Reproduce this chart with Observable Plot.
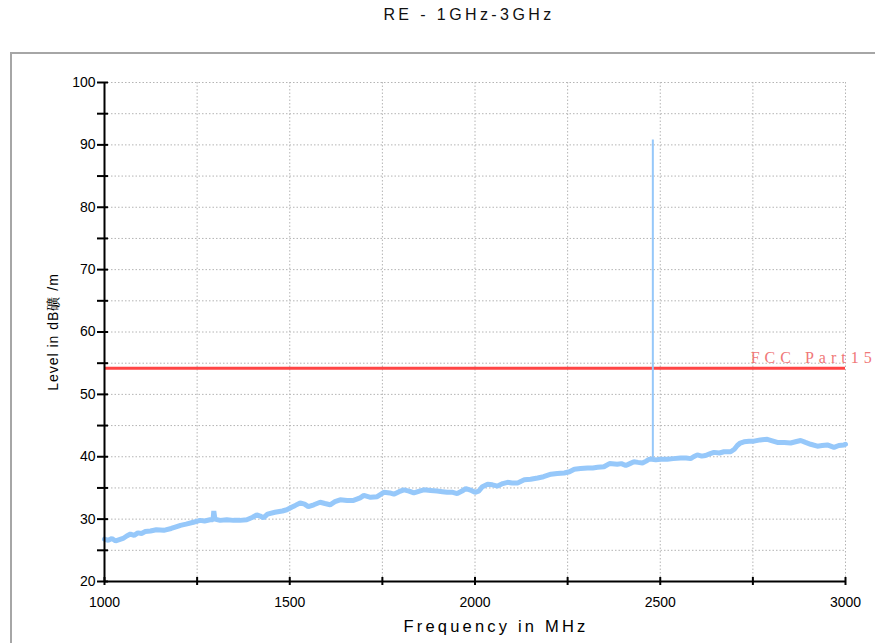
<!DOCTYPE html>
<html>
<head>
<meta charset="utf-8">
<script src="https://cdn.jsdelivr.net/npm/d3@7"></script>
<script src="https://cdn.jsdelivr.net/npm/@observablehq/plot@0.6"></script>
<style>
  html, body { margin: 0; padding: 0; background: #fff; overflow: hidden; }
  #wrap { position: relative; width: 875px; height: 643px; font-family: "Liberation Sans", Arial, sans-serif; }
  #title { position: absolute; left: 0; top: 6px; width: 938px; text-align: center; font-size: 16px; letter-spacing: 3.4px; color: #111; }
  #frame { position: absolute; left: 10px; top: 52px; width: 900px; height: 640px; border-top: 2px solid #a6a6a6; border-left: 2px solid #a6a6a6; }
  #chart { position: absolute; left: 0; top: 52px; }
</style>
</head>
<body>
<div id="wrap">
  <div id="title"></div>
  <div id="frame"></div>
  <div id="chart"></div>
</div>
<script>
const chartTitle = "RE - 1GHz-3GHz";
const xLabel = "Frequency in MHz";
const yLabel = "Level in dB礦 /m";
const limitName = "FCC Part15";
const limitLevel = [54.2];

const xTicks = [1000, 1250, 1500, 1750, 2000, 2250, 2500, 2750, 3000];
const xTickLabels = [1000, 1500, 2000, 2500, 3000];
const yTicks = [20, 25, 30, 35, 40, 45, 50, 55, 60, 65, 70, 75, 80, 85, 90, 95, 100];
const yTickLabels = [20, 30, 40, 50, 60, 70, 80, 90, 100];

const freq = [1000,1010,1020,1030,1040,1050,1060,1070,1080,1090,1100,1110,1124,1140,1160,1180,1195,1205,1220,1240,1258,1270,1285,1293,1295,1298,1312,1330,1348,1366,1384,1400,1411,1420,1429,1440,1460,1480,1492,1505,1515,1528,1540,1550,1565,1582,1595,1609,1622,1636,1655,1672,1690,1700,1718,1736,1754,1770,1781,1795,1808,1822,1835,1850,1862,1880,1898,1912,1925,1940,1952,1965,1975,1990,2000,2010,2020,2034,2047,2061,2075,2088,2100,2115,2133,2150,2169,2185,2205,2222,2241,2255,2268,2285,2304,2318,2331,2348,2363,2384,2395,2407,2418,2429,2440,2452,2462,2470,2478,2488,2500,2519,2535,2555,2570,2582,2590,2600,2612,2622,2635,2645,2660,2672,2690,2700,2708,2716,2726,2740,2753,2770,2789,2800,2816,2835,2852,2865,2879,2892,2906,2924,2937,2951,2969,2982,2996,3000];
const level = [26.8,26.6,26.9,26.5,26.7,26.9,27.3,27.6,27.4,27.8,27.7,28.0,28.1,28.3,28.2,28.5,28.8,29.0,29.2,29.5,29.8,29.7,29.9,29.9,31.3,30.0,29.8,29.9,29.8,29.8,29.9,30.3,30.7,30.5,30.2,30.8,31.1,31.3,31.5,31.9,32.2,32.6,32.4,32.0,32.3,32.7,32.5,32.3,32.8,33.1,33.0,33.0,33.4,33.8,33.5,33.6,34.3,34.2,34.0,34.4,34.7,34.5,34.2,34.5,34.7,34.6,34.5,34.4,34.3,34.3,34.1,34.5,34.9,34.6,34.3,34.5,35.2,35.6,35.5,35.3,35.7,35.9,35.8,35.8,36.3,36.4,36.6,36.8,37.2,37.3,37.4,37.6,38.0,38.1,38.2,38.2,38.3,38.4,38.9,38.8,38.9,38.6,38.9,39.2,39.1,39.0,39.3,39.6,39.6,39.5,39.6,39.6,39.7,39.8,39.8,39.7,40.0,40.3,40.1,40.2,40.5,40.7,40.6,40.8,40.8,41.2,41.8,42.2,42.4,42.5,42.5,42.7,42.8,42.6,42.3,42.3,42.2,42.4,42.6,42.3,42.0,41.7,41.8,41.9,41.5,41.8,41.9,42.0];

const spikeFreq = [2480];
const spikeBase = [39.6];
const spikeTop = [90.8];

const data = freq.map((f, i) => ({f, v: level[i]}));
const spikes = spikeFreq.map((f, i) => ({f, y1: spikeBase[i], y2: spikeTop[i]}));

document.getElementById("title").textContent = chartTitle;

const gridStyle = {stroke: "#b4b4b4", strokeOpacity: 1, strokeWidth: 1, strokeDasharray: "1.5,2"};

const chart = Plot.plot({
  width: 875,
  height: 591,
  marginLeft: 104,
  marginRight: 30,
  marginTop: 30,
  marginBottom: 62,
  x: {domain: [1000, 3000]},
  y: {domain: [20, 100]},
  style: {fontFamily: "'Liberation Sans', Arial, sans-serif", fontSize: "14px", background: "transparent", overflow: "visible", color: "#000"},
  marks: [
    Plot.gridX(xTicks, gridStyle),
    Plot.gridY(yTicks, gridStyle),
    Plot.ruleY(limitLevel, {stroke: "#ff4545", strokeWidth: 3}),
    Plot.line(data, {x: "f", y: "v", stroke: "#96c8fa", strokeWidth: 5, strokeLinejoin: "miter"}),
    Plot.ruleX(spikes, {x: "f", y1: "y1", y2: "y2", stroke: "#96c8fa", strokeWidth: 2}),
    Plot.text([limitName], {x: 2744, y: limitLevel[0], text: d => d, textAnchor: "start", dy: -10, fill: "#f07878", fontFamily: "'Liberation Serif', 'DejaVu Serif', serif", fontSize: 16}),
    Plot.axisY(yTicks, {tickSize: 7, tickPadding: 2, strokeWidth: 2, fontSize: 14, label: null, tickFormat: d => yTickLabels.includes(d) ? String(d) : ""}),
    Plot.axisY(yTicks, {tickSize: -4, strokeWidth: 2, label: null, tickFormat: () => ""}),
    Plot.axisX(xTicks, {tickSize: 4, tickPadding: 12, strokeWidth: 2, fontSize: 14, label: null, tickFormat: d => xTickLabels.includes(d) ? String(d) : ""}),
    Plot.axisX(xTicks, {tickSize: -4, strokeWidth: 2, label: null, tickFormat: () => ""}),
    Plot.ruleX([1000], {stroke: "#000", strokeWidth: 2}),
    Plot.ruleY([20], {stroke: "#000", strokeWidth: 2}),
    Plot.text([yLabel], {frameAnchor: "left", textAnchor: "middle", rotate: -90, dx: -51, fontSize: 14, fill: "#000"}),
    Plot.text([xLabel], {frameAnchor: "bottom", textAnchor: "middle", dy: 50, dx: 21, fontSize: 16.5, fill: "#000"})
  ]
});

document.getElementById("chart").appendChild(chart);

d3.select(chart).selectAll("text").each(function() {
  const t = this.textContent;
  if (t === limitName) d3.select(this).attr("letter-spacing", "5px");
  if (t === xLabel) d3.select(this).attr("letter-spacing", "3.2px");
  if (t === yLabel) d3.select(this).attr("letter-spacing", "1px");
});
</script>
</body>
</html>
